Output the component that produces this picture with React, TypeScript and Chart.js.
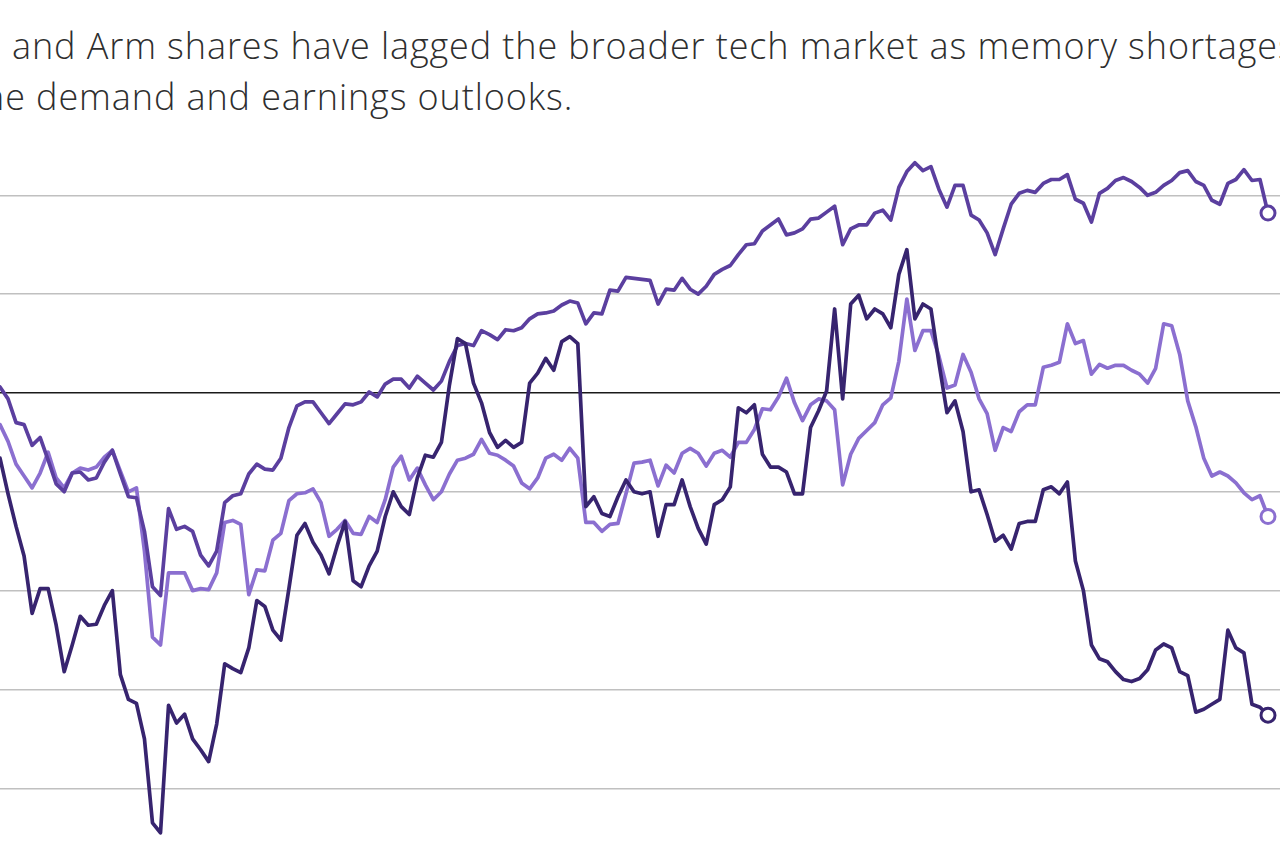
import React, { useEffect, useRef } from "react";
import { Chart, registerables } from "chart.js";

Chart.register(...registerables);

// Trading sessions (index along the x axis)
const sessions: number[] = Array.from({ length: 159 }, (_, i) => i);

// Percent change since the start of the period
const broaderTech: number[] = [
  0.6, -0.6, -3.0, -3.2, -5.3, -4.5, -6.8, -9.2, -10.0, -8.1,
  -8.0, -8.8, -8.6, -7.0, -5.8, -8.2, -10.5, -10.6, -14.0, -19.6,
  -20.5, -11.7, -13.8, -13.5, -14.0, -16.4, -17.5, -16.0, -11.1, -10.4,
  -10.2, -8.2, -7.2, -7.7, -7.8, -6.6, -3.5, -1.3, -0.9, -0.9,
  -2.0, -3.1, -2.1, -1.1, -1.2, -0.9, 0.1, -0.4, 0.9, 1.4,
  1.4, 0.5, 1.7, 1.0, 0.3, 1.2, 3.2, 4.8, 5.0, 4.8,
  6.3, 5.9, 5.4, 6.4, 6.3, 6.6, 7.5, 8.0, 8.1, 8.3,
  8.9, 9.3, 9.1, 7.0, 8.1, 8.0, 10.4, 10.3, 11.7, 11.6,
  11.5, 11.4, 9.0, 10.5, 10.4, 11.6, 10.5, 10.0, 10.8, 12.0,
  12.5, 12.9, 14.0, 15.0, 15.1, 16.4, 17.0, 17.6, 16.0, 16.2,
  16.6, 17.6, 17.7, 18.3, 18.9, 15.0, 16.6, 17.0, 17.0, 18.2,
  18.5, 17.5, 20.8, 22.4, 23.3, 22.5, 22.9, 20.6, 18.8, 21.0,
  21.0, 18.0, 17.5, 16.2, 14.0, 16.6, 19.1, 20.2, 20.5, 20.3,
  21.2, 21.6, 21.6, 22.1, 19.6, 19.2, 17.3, 20.2, 20.7, 21.5,
  21.8, 21.4, 20.8, 20.0, 20.3, 21.0, 21.5, 22.3, 22.5, 21.4,
  21.0, 19.5, 19.1, 21.2, 21.6, 22.6, 21.5, 21.6, 18.2,
];

const armShares: number[] = [
  -3.2, -4.9, -7.2, -8.4, -9.6, -8.1, -6.0, -8.6, -9.6, -8.1,
  -7.6, -7.8, -7.5, -6.5, -5.8, -7.9, -10.0, -9.6, -16.0, -24.7,
  -25.5, -18.2, -18.2, -18.2, -20.0, -19.8, -19.9, -18.2, -13.1, -12.9,
  -13.3, -20.4, -17.9, -18.0, -14.9, -14.2, -10.9, -10.2, -10.1, -9.7,
  -11.1, -14.5, -13.8, -12.9, -14.2, -14.3, -12.5, -13.1, -10.8, -7.5,
  -6.4, -8.8, -7.6, -9.3, -10.8, -10.0, -8.2, -6.8, -6.6, -6.2,
  -4.7, -6.1, -6.3, -6.8, -7.4, -9.1, -9.7, -8.6, -6.6, -6.2,
  -6.8, -5.6, -6.6, -13.1, -13.1, -14.0, -13.3, -13.2, -10.2, -7.1,
  -7.0, -6.8, -9.4, -7.3, -8.1, -6.1, -5.6, -6.1, -7.4, -6.1,
  -5.8, -6.5, -5.0, -5.0, -3.7, -1.6, -1.7, -0.4, 1.5, -1.0,
  -2.8, -1.2, -0.6, -0.8, -1.7, -9.3, -6.2, -4.6, -3.8, -3.0,
  -1.2, -0.5, 3.2, 9.5, 4.3, 6.3, 6.3, 3.7, 0.5, 0.8,
  3.9, 2.1, -0.6, -2.1, -5.8, -3.5, -3.9, -1.9, -1.2, -1.2,
  2.6, 2.8, 3.1, 7.0, 5.0, 5.3, 1.9, 2.9, 2.5, 2.8,
  2.8, 2.3, 1.9, 1.0, 2.5, 7.0, 6.8, 3.9, -0.8, -3.4,
  -6.6, -8.4, -8.0, -8.4, -9.1, -10.1, -10.8, -10.4, -12.5,
];

const peerShares: number[] = [
  -6.6, -10.2, -13.5, -16.5, -22.3, -19.8, -19.8, -23.5, -28.2, -25.5,
  -22.6, -23.5, -23.4, -21.5, -20.0, -28.5, -31.0, -31.4, -35.0, -43.5,
  -44.5, -31.6, -33.4, -32.5, -35.0, -36.1, -37.3, -33.5, -27.4, -27.9,
  -28.3, -25.8, -21.0, -21.6, -24.0, -25.0, -19.8, -14.4, -13.2, -15.1,
  -16.4, -18.3, -15.5, -13.0, -19.0, -19.6, -17.5, -16.0, -12.5, -10.0,
  -11.5, -12.3, -8.6, -6.3, -6.5, -5.0, 0.8, 5.5, 5.0, 1.0,
  -1.0, -4.0, -5.5, -4.8, -5.5, -5.0, 1.0, 2.0, 3.5, 2.3,
  5.2, 5.7, 5.0, -11.5, -10.5, -12.2, -12.5, -10.5, -8.8, -10.0,
  -10.2, -10.0, -14.5, -11.3, -11.3, -8.8, -11.5, -13.7, -15.3, -11.3,
  -10.8, -9.5, -1.5, -2.0, -1.2, -6.2, -7.5, -7.5, -8.0, -10.2,
  -10.2, -3.5, -1.8, 0.2, 8.5, -0.6, 9.0, 9.9, 7.5, 8.5,
  8.0, 6.6, 12.0, 14.5, 7.5, 9.0, 8.5, 3.0, -2.0, -0.8,
  -3.9, -10.0, -9.8, -12.3, -15.0, -14.4, -15.8, -13.2, -13.0, -13.0,
  -9.8, -9.5, -10.2, -9.0, -17.0, -20.0, -25.5, -26.9, -27.2, -28.2,
  -29.0, -29.2, -28.9, -28.0, -26.0, -25.4, -25.8, -28.2, -28.6, -32.3,
  -32.0, -31.5, -31.0, -24.0, -25.8, -26.3, -31.5, -31.8, -32.6,
];

// Gridlines every 10 points; zero is the baseline
const gridValues: number[] = [-40, -30, -20, -10, 0, 10, 20];

const COLORS = {
  peer: "#37246f",
  tech: "#5b3f9f",
  arm: "#8b6fd0",
  grid: "#c0c0c0",
  zero: "#1a1a1a",
  text: "#2e2e2e",
};

const lastIdx = sessions.length - 1;

function series(label: string, values: number[], color: string) {
  return {
    label,
    data: sessions.map((s, i) => ({ x: s, y: values[i] })),
    borderColor: color,
    backgroundColor: color,
    borderWidth: 3.7,
    borderJoinStyle: "round" as const,
    borderCapStyle: "round" as const,
    tension: 0,
    fill: false,
    pointRadius: (ctx: any) => (ctx.dataIndex === lastIdx ? 7 : 0),
    pointHoverRadius: 0,
    pointBorderWidth: 3,
    pointBorderColor: color,
    pointBackgroundColor: "#ffffff",
    clip: false as const,
  };
}

function PerformanceChart() {
  const canvasRef = useRef<HTMLCanvasElement | null>(null);

  useEffect(() => {
    const canvas = canvasRef.current;
    if (!canvas) return;
    const chart = new Chart(canvas, {
      type: "line",
      data: {
        datasets: [
          series("Peer shares", peerShares, COLORS.peer),
          series("Broader tech", broaderTech, COLORS.tech),
          series("Arm", armShares, COLORS.arm),
        ],
      },
      options: {
        responsive: false,
        animation: false,
        devicePixelRatio: 1,
        layout: { padding: 0, autoPadding: false },
        plugins: {
          legend: { display: false },
          tooltip: { enabled: false },
          title: { display: false },
        },
        scales: {
          x: {
            type: "linear",
            display: false,
            min: 0,
            max: (lastIdx * 1280) / 1268,
          },
          y: {
            type: "linear",
            min: -45.74,
            max: 26.61,
            display: true,
            afterFit: (scale: any) => {
              scale.width = 0;
            },
            afterBuildTicks: (scale: any) => {
              scale.ticks = gridValues.map((v) => ({ value: v }));
            },
            ticks: { display: false },
            border: { display: false },
            grid: {
              drawTicks: false,
              lineWidth: 1.5,
              color: (ctx: any) =>
                ctx.tick && ctx.tick.value === 0 ? COLORS.zero : COLORS.grid,
            },
          },
        },
      },
    });
    return () => chart.destroy();
  }, []);

  return (
    <canvas
      ref={canvasRef}
      width={1280}
      height={715}
      style={{ position: "absolute", left: 0, top: 130, width: 1280, height: 715 }}
    />
  );
}

export default function App() {
  const textStyle: React.CSSProperties = {
    position: "absolute",
    whiteSpace: "nowrap",
    fontFamily: '"Open Sans", sans-serif',
    fontWeight: 300,
    fontSize: 36,
    letterSpacing: "0.9px",
    lineHeight: "51px",
    color: COLORS.text,
  };
  return (
    <div
      style={{
        position: "fixed",
        left: 0,
        top: 0,
        width: 1280,
        height: 845,
        overflow: "hidden",
        background: "#ffffff",
      }}
    >
      <div style={{ ...textStyle, left: 12, top: 20 }}>
        and Arm shares have lagged the broader tech market as memory shortages
      </div>
      <div style={{ ...textStyle, left: -17, top: 71 }}>
        he demand and earnings outlooks.
      </div>
      <PerformanceChart />
    </div>
  );
}
